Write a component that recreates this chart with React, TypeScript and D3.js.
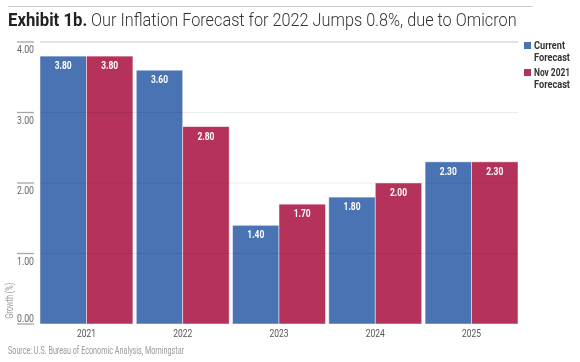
import { useEffect, useRef } from "react";
import * as d3 from "d3";

const years = ["2021", "2022", "2023", "2024", "2025"];
const currentForecast = [3.8, 3.6, 1.4, 1.8, 2.3];
const nov2021Forecast = [3.8, 2.8, 1.7, 2.0, 2.3];
const seriesNames = [["Current", "Forecast"], ["Nov 2021", "Forecast"]];
const yTicks = [0, 1, 2, 3, 4];

const BLUE = "#4a73b3";
const RED = "#b5325a";
const FONT = "Roboto, 'Noto Sans', sans-serif";

export default function App() {
  const ref = useRef<SVGSVGElement>(null);

  useEffect(() => {
    if (!ref.current) return;
    const el = ref.current;
    const width = 580;
    const height = 362;
    const margin = { top: 42, right: 62, bottom: 38, left: 40 };
    const innerWidth = width - margin.left - margin.right;
    const innerHeight = height - margin.top - margin.bottom;

    const svg = d3.select(el);
    svg.selectAll("*").remove();
    svg.attr("width", width).attr("height", height).style("font-family", FONT);

    // Top rule + title
    svg.append("rect")
      .attr("x", 8).attr("y", 6).attr("width", 525).attr("height", 1)
      .attr("fill", "#cccccc");

    svg.append("text").attr("transform", "translate(8,26) scale(0.9,1)")
      .style("font-size", "18.6px").style("font-weight", "bold").style("fill", "#222")
      .text("Exhibit 1b.");
    svg.append("text").attr("transform", "translate(91,26) scale(0.875,1)")
      .style("font-size", "18.6px").style("font-weight", "300").style("fill", "#333")
      .text("Our Inflation Forecast for 2022 Jumps 0.8%, due to Omicron");

    const g = svg.append("g").attr("transform", `translate(${margin.left},${margin.top})`);

    const x0 = d3.scaleBand().domain(years).range([0, innerWidth]).paddingInner(0.035);
    const x1 = d3.scaleBand().domain(["current", "nov"]).range([0, x0.bandwidth()]);
    const y = d3.scaleLinear().domain([0, 4]).range([innerHeight, 0]);

    const groups = g.selectAll(".grp").data(years).join("g")
      .attr("transform", (d) => `translate(${x0(d)},0)`);

    const rows = years.map((_, i) => [
      { key: "current", v: currentForecast[i], c: BLUE },
      { key: "nov", v: nov2021Forecast[i], c: RED },
    ]);

    groups.each(function (_, i) {
      const grp = d3.select(this);
      grp.selectAll("rect").data(rows[i]).join("rect")
        .attr("x", (d) => x1(d.key)!)
        .attr("width", x1.bandwidth())
        .attr("y", (d) => y(d.v))
        .attr("height", (d) => innerHeight - y(d.v))
        .attr("fill", (d) => d.c)
        .attr("stroke", "#ffffff")
        .attr("stroke-opacity", 0.6)
        .attr("stroke-width", 0.8);
      grp.selectAll("text.val").data(rows[i]).join("text")
        .attr("class", "val")
        .attr("x", (d) => x1(d.key)! + x1.bandwidth() / 2)
        .attr("y", (d) => y(d.v) + 13)
        .attr("text-anchor", "middle")
        .attr("textLength", 17).attr("lengthAdjust", "spacingAndGlyphs")
        .style("font-size", "10.5px")
        .style("font-weight", "bold")
        .style("fill", "#fff")
        .text((d) => d.v.toFixed(2));
    });

    // Gridlines (faint, over bars)
    g.selectAll(".grid").data(yTicks.filter((t) => t > 0 && t < 4)).join("line")
      .attr("x1", 0).attr("x2", innerWidth)
      .attr("y1", (d) => y(d)).attr("y2", (d) => y(d))
      .attr("stroke", "#000").attr("stroke-opacity", 0.08);
    g.append("line")
      .attr("x1", 0).attr("x2", innerWidth).attr("y1", y(4)).attr("y2", y(4))
      .attr("stroke", "#e3e3e3").attr("stroke-width", 2);

    // Y ticks: short rule with label below
    const yt = g.selectAll(".ytick").data(yTicks).join("g")
      .attr("transform", (d) => `translate(0,${y(d)})`);
    yt.append("line").attr("x1", -23).attr("x2", -6).attr("y1", 0).attr("y2", 0)
      .attr("stroke", "#a6a6a6").attr("stroke-width", 1.3);
    yt.append("text").attr("x", -6).attr("y", (d) => (d === 0 ? -2 : 11))
      .attr("text-anchor", "end")
      .attr("textLength", 17).attr("lengthAdjust", "spacingAndGlyphs")
      .style("font-size", "10.5px").style("fill", "#666")
      .text((d) => d.toFixed(2));

    // X axis labels
    g.selectAll(".xlab").data(years).join("text")
      .attr("x", (d) => x0(d)! + x0.bandwidth() / 2)
      .attr("y", innerHeight + 13)
      .attr("text-anchor", "middle")
      .attr("textLength", 19).attr("lengthAdjust", "spacingAndGlyphs")
      .style("font-size", "10.5px").style("fill", "#555")
      .text((d) => d);

    // Y axis title
    g.append("text")
      .attr("transform", `translate(-27,${y(0.33)}) rotate(-90)`)
      .attr("text-anchor", "middle")
      .attr("textLength", 36).attr("lengthAdjust", "spacingAndGlyphs")
      .style("font-size", "10px").style("fill", "#999")
      .text("Growth (%)");

    // Legend
    const lg = svg.append("g").attr("transform", `translate(524,42)`);
    [BLUE, RED].forEach((c, i) => {
      const item = lg.append("g").attr("transform", `translate(0,${i * 27})`);
      item.append("rect").attr("width", 7).attr("height", 7).attr("fill", c);
      seriesNames[i].forEach((s, j) => {
        item.append("text").attr("x", 10).attr("y", 7 + j * 11.5)
          .attr("textLength", s === "Current" ? 31 : 36).attr("lengthAdjust", "spacingAndGlyphs")
          .style("font-size", "10px").style("font-weight", "bold").style("fill", "#333")
          .text(s);
      });
    });

    // Source
    svg.append("text").attr("x", 8).attr("y", 354)
      .attr("textLength", 176).attr("lengthAdjust", "spacingAndGlyphs")
      .style("font-size", "10.5px").style("fill", "#999")
      .text("Source: U.S. Bureau of Economic Analysis, Morningstar");
  }, []);

  return (
    <div style={{ position: "fixed", top: 0, left: 0 }}>
      <svg ref={ref} style={{ display: "block" }} />
    </div>
  );
}
